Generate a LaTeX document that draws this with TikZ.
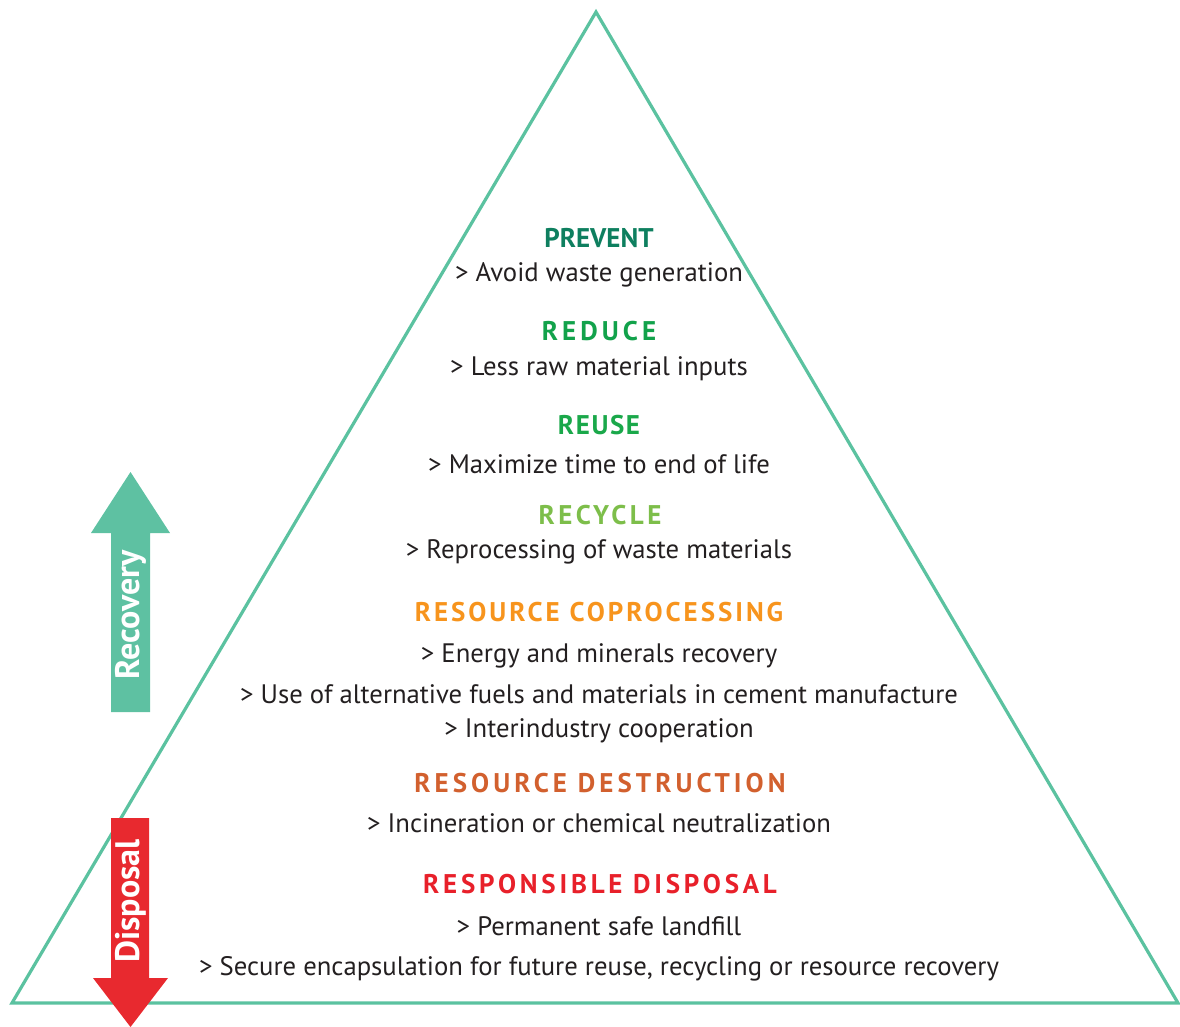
\documentclass[tikz,border=0pt]{standalone}
\usepackage{fontspec}
\setmainfont{PT Sans}
\definecolor{tri}{HTML}{5BC2A0}
\definecolor{recov}{HTML}{5EC1A2}
\definecolor{disp}{HTML}{E8292F}
\definecolor{body}{HTML}{231F20}
\definecolor{cprevent}{HTML}{0E7F5F}
\definecolor{creduce}{HTML}{12A24B}
\definecolor{creuse}{HTML}{1AA84A}
\definecolor{crecycle}{HTML}{7DBE4A}
\definecolor{ccopro}{HTML}{F7941D}
\definecolor{cdestr}{HTML}{D2602E}
\definecolor{cdispo}{HTML}{E8202A}
\tikzset{
  bodytxt/.style={text=body,font=\fontsize{26.7}{30}\selectfont,inner sep=0pt,anchor=center},
  headtxt/.style={inner sep=0pt,anchor=center},
  arrowtxt/.style={text=white,font=\fontsize{34}{36}\selectfont\bfseries,rotate=90,inner sep=0pt}
}
\newcommand{\hfont}[1]{\fontsize{27}{30}\selectfont\bfseries\addfontfeature{LetterSpace=#1}}
\begin{document}
\begin{tikzpicture}[x=1pt,y=-1pt]
\useasboundingbox (0,0) rectangle (1180,1027);
% triangle
\coordinate (apex) at (596,12);
\coordinate (bl) at (12,1003);
\coordinate (br) at (1178,1003);
\draw[tri,line width=3.2pt,line join=miter] (apex) -- (br) -- (bl) -- cycle;
% recovery arrow
\fill[recov] (111,712) -- (111,533) -- (91,533) -- (130.5,472) -- (170,533) -- (150,533) -- (150,712) -- cycle;
\node[arrowtxt] (recovery) at (131,615) {Recovery};
% disposal arrow
\fill[disp] (111,818) -- (149,818) -- (149,978) -- (168,978) -- (130.5,1027) -- (93,978) -- (111,978) -- cycle;
\node[arrowtxt] (disposal) at (131,901) {Disposal};
% texts
\node[headtxt,text=cprevent,font=\hfont{0}] (prevent) at (599,238) {PREVENT};
\node[bodytxt] (avoid) at (599,275) {> Avoid waste generation};
\node[headtxt,text=creduce,font=\hfont{15}] (reduce) at (599,331) {REDUCE};
\node[bodytxt] (less) at (599,369) {> Less raw material inputs};
\node[headtxt,text=creuse,font=\hfont{6}] (reuse) at (599,425) {REUSE};
\node[bodytxt] (max) at (599,464) {> Maximize time to end of life};
\node[headtxt,text=crecycle,font=\hfont{13}] (recycle) at (600,515) {RECYCLE};
\node[bodytxt] (repro) at (599,552) {> Reprocessing of waste materials};
\node[headtxt,text=ccopro,font=\hfont{11}] (copro) at (599,612) {RESOURCE COPROCESSING};
\node[bodytxt] (energy) at (599,656) {> Energy and minerals recovery};
\node[bodytxt] (use) at (599,694) {> Use of alternative fuels and materials in cement manufacture};
\node[bodytxt] (inter) at (599,731) {> Interindustry cooperation};
\node[headtxt,text=cdestr,font=\hfont{15}] (destr) at (600,783) {RESOURCE DESTRUCTION};
\node[bodytxt] (incin) at (599,823) {> Incineration or chemical neutralization};
\node[headtxt,text=cdispo,font=\hfont{14}] (dispo) at (600,884) {RESPONSIBLE DISPOSAL};
\node[bodytxt] (perm) at (599,926) {> Permanent safe landfill};
\node[bodytxt] (secure) at (599,969) {> Secure encapsulation for future reuse, recycling or resource recovery};
\end{tikzpicture}
\end{document}
